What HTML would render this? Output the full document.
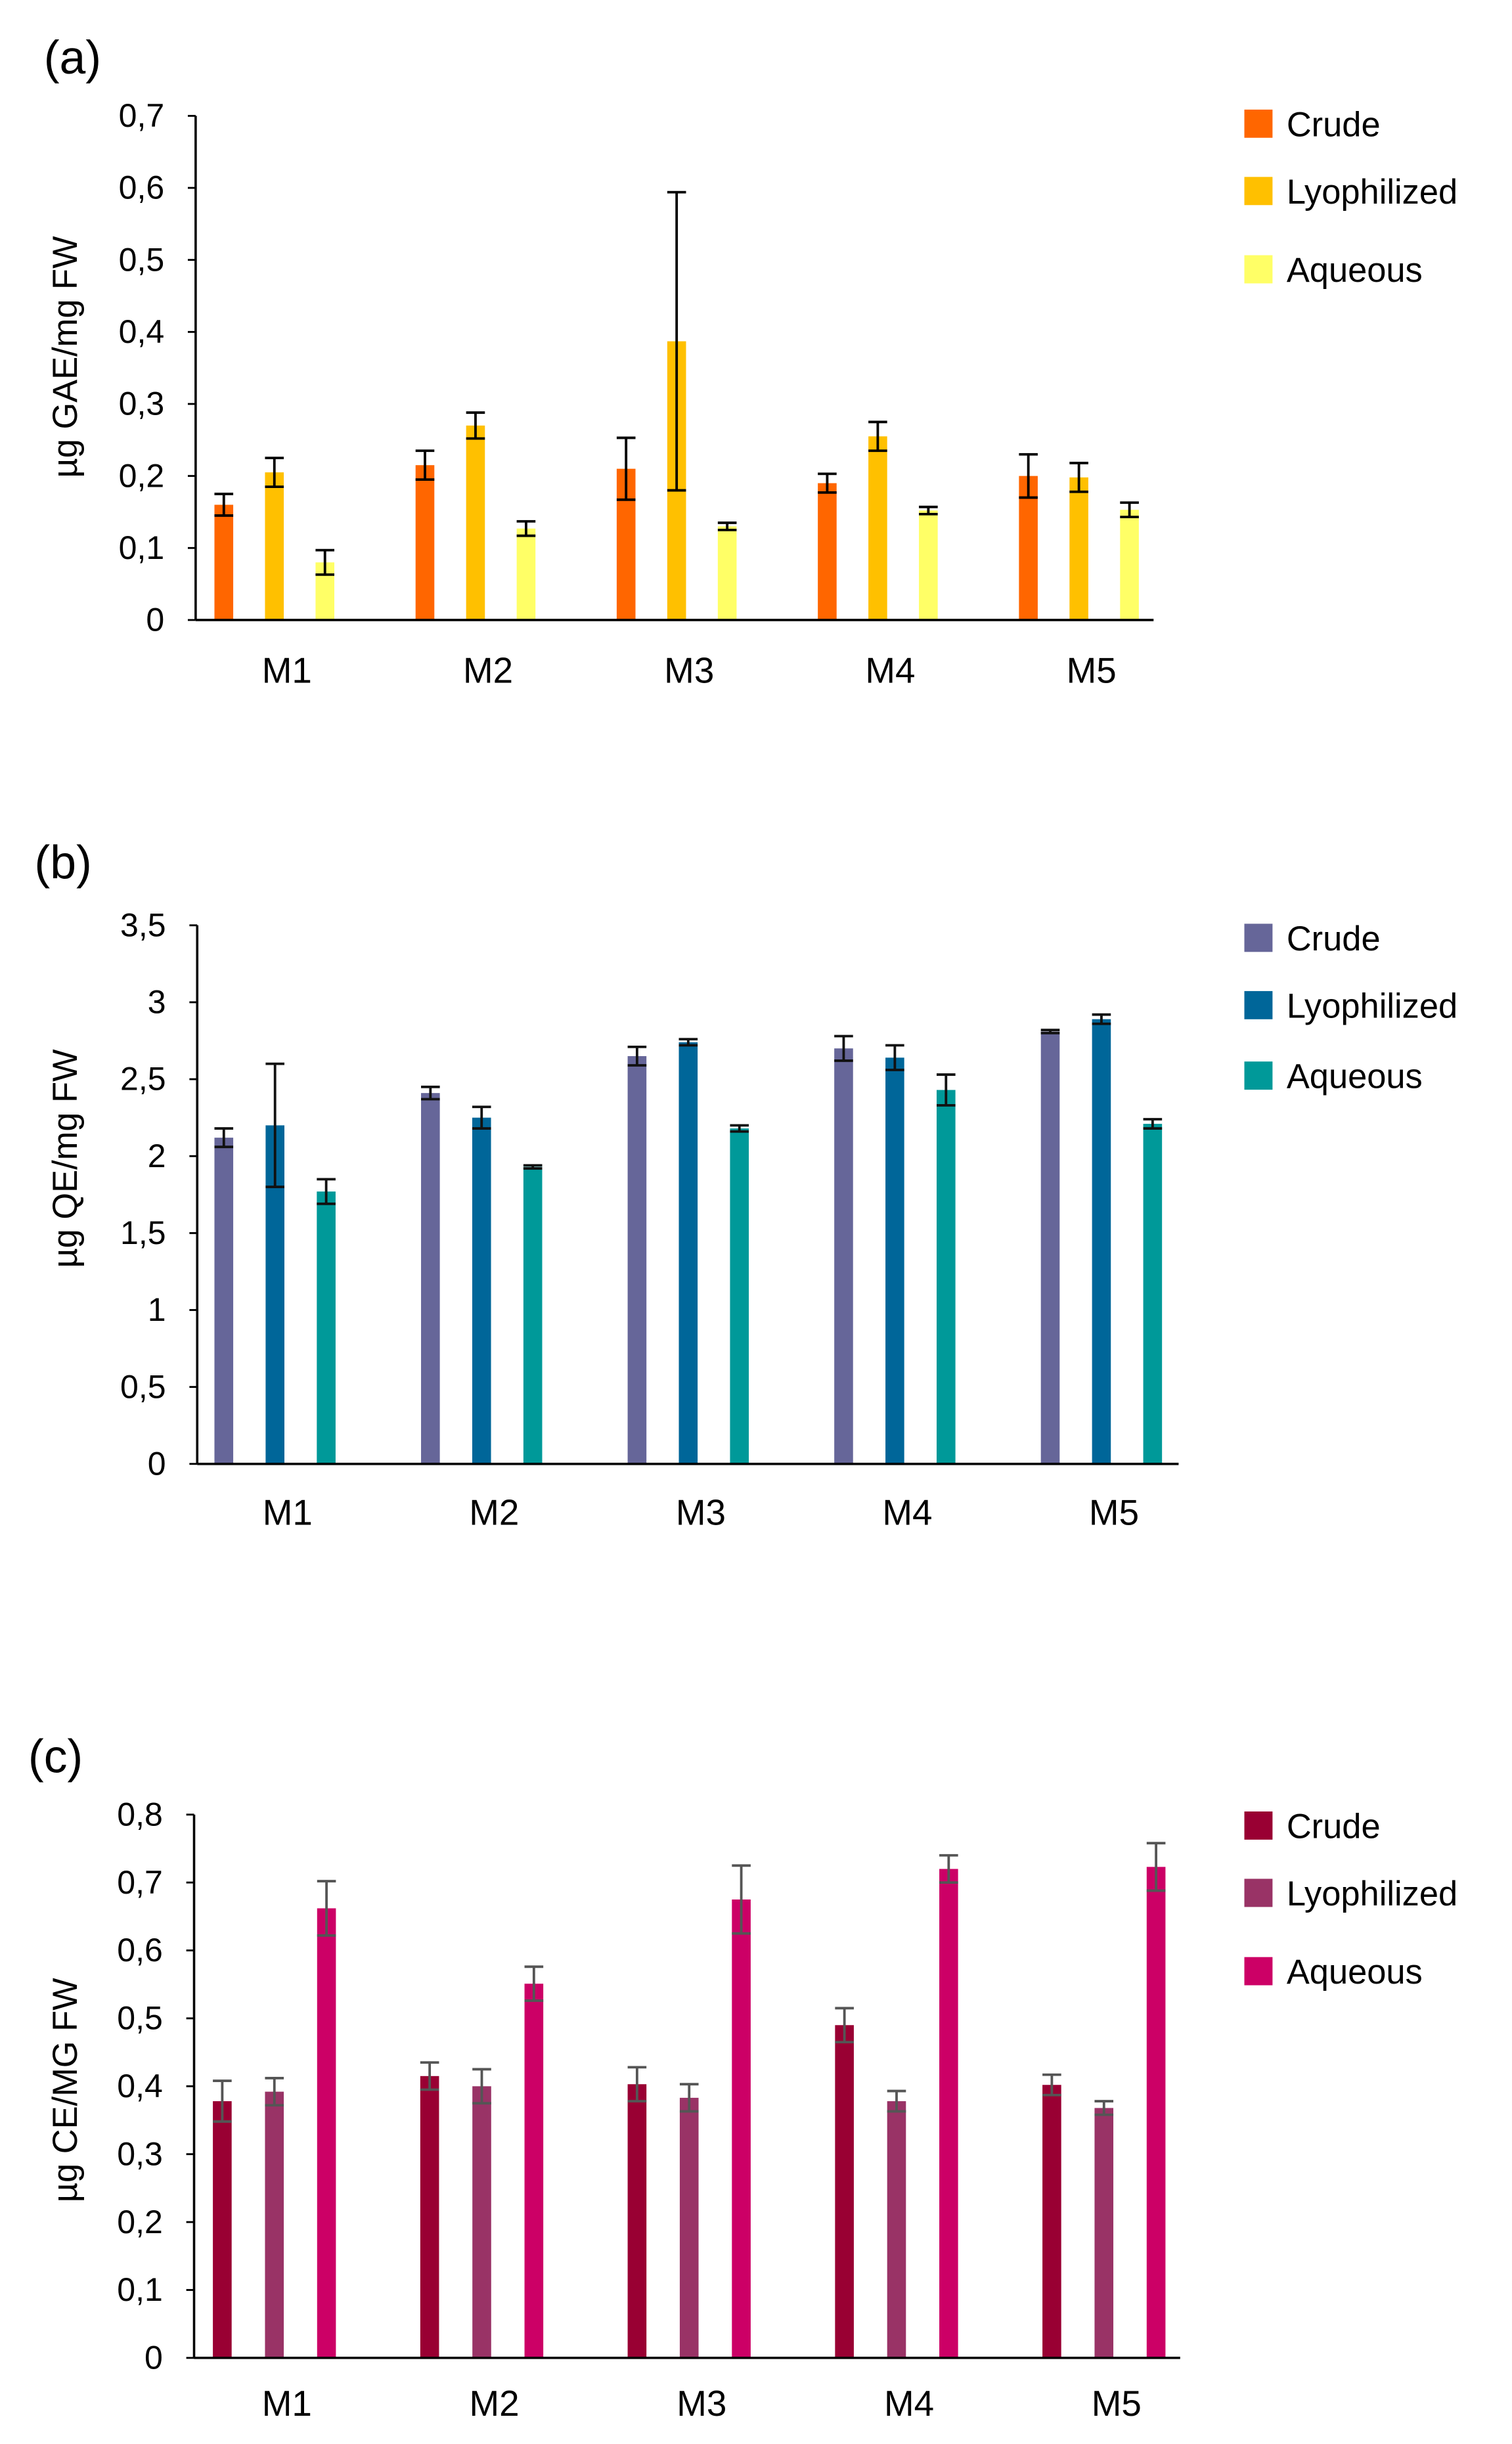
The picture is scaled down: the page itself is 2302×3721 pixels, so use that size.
<!DOCTYPE html>
<html><head><meta charset="utf-8"><style>
html,body{margin:0;padding:0;background:#fff}
svg{display:block}
text{font-family:"Liberation Sans",Arial,sans-serif;fill:#000}
</style></head><body>
<svg id="chart" width="2302" height="3721" viewBox="0 0 966 1561" preserveAspectRatio="none" xmlns="http://www.w3.org/2000/svg"></svg>
<script>
const categories = ["M1","M2","M3","M4","M5"];
const seriesNames = ["Crude","Lyophilized","Aqueous"];
// Panel a
const aCrude = [0.16,0.215,0.21,0.19,0.2];
const aCrudeErr = [0.015,0.02,0.043,0.013,0.03];
const aLyo = [0.205,0.27,0.387,0.255,0.198];
const aLyoErr = [0.02,0.018,0.207,0.02,0.02];
const aAq = [0.08,0.127,0.13,0.152,0.153];
const aAqErr = [0.017,0.01,0.005,0.005,0.01];
const aTicks = ["0","0,1","0,2","0,3","0,4","0,5","0,6","0,7"];
// Panel b
const bCrude = [2.12,2.41,2.65,2.7,2.81];
const bCrudeErr = [0.06,0.04,0.06,0.08,0.01];
const bLyo = [2.2,2.25,2.74,2.64,2.89];
const bLyoErr = [0.4,0.07,0.02,0.08,0.03];
const bAq = [1.77,1.93,2.18,2.43,2.21];
const bAqErr = [0.08,0.01,0.02,0.1,0.03];
const bTicks = ["0","0,5","1","1,5","2","2,5","3","3,5"];
// Panel c
const cCrude = [0.378,0.415,0.403,0.49,0.402];
const cCrudeErr = [0.03,0.02,0.025,0.025,0.015];
const cLyo = [0.392,0.4,0.383,0.378,0.368];
const cLyoErr = [0.02,0.025,0.02,0.015,0.01];
const cAq = [0.662,0.551,0.675,0.72,0.723];
const cAqErr = [0.04,0.025,0.05,0.02,0.035];
const cTicks = ["0","0,1","0,2","0,3","0,4","0,5","0,6","0,7","0,8"];

const svg = document.getElementById('chart');
const NS = "http://www.w3.org/2000/svg";
function mk(tag, attrs, parent){const e=document.createElementNS(NS,tag);for(const k in attrs)e.setAttribute(k,attrs[k]);(parent||svg).appendChild(e);return e;}

const panels = [
 {id:'a',label:'(a)',lx:28,ly:47,ax:125,y0:396,ytop:74,xend:737,max:0.7,step:0.1,ticks:aTicks,
  first:143,gap:128.5,off:32.3,series:[aCrude,aLyo,aAq],errs:[aCrudeErr,aLyoErr,aAqErr],
  colors:['#FF6600','#FFC000','#FFFF66'],errColor:'#000',title:'µg GAE/mg FW',titleY:228,
  labY:436,legY:[79,122,172],legX:795},
 {id:'b',label:'(b)',lx:22,ly:561,ax:126,y0:935,ytop:591,xend:753,max:3.5,step:0.5,ticks:bTicks,
  first:143,gap:132,off:32.7,series:[bCrude,bLyo,bAq],errs:[bCrudeErr,bLyoErr,bAqErr],
  colors:['#666699','#006699','#009999'],errColor:'#111',title:'µg QE/mg FW',titleY:740,
  labY:974,legY:[599,642,687],legX:795},
 {id:'c',label:'(c)',lx:18,ly:1132,ax:124,y0:1506,ytop:1159,xend:754,max:0.8,step:0.1,ticks:cTicks,
  first:142,gap:132.5,off:33.3,series:[cCrude,cLyo,cAq],errs:[cCrudeErr,cLyoErr,cAqErr],
  colors:['#990033','#993366','#CC0066'],errColor:'#555',title:'µg CE/MG FW',titleY:1335,
  labY:1543,legY:[1166,1209,1259],legX:795}
];

panels.forEach(p=>{
  const g = mk('g',{});
  
  
  const yScale = v => p.y0 - (v/p.max)*(p.y0-p.ytop);
  const xBar = (i,s) => p.first + i*p.gap + s*p.off;
  const pl = mk('text',{x:p.lx,y:p.ly,'font-size':30},g); pl.textContent=p.label;
  
  
  const yt = mk('text',{x:0,y:0,'font-size':22,'text-anchor':'middle',transform:`translate(49,${p.titleY}) rotate(-90)`},g);
  yt.textContent=p.title;
  
  
  p.ticks.forEach((t,k)=>{
    const y = yScale(k*p.step);
    mk('line',{x1:p.ax-5,x2:p.ax,y1:y,y2:y,stroke:'#000','stroke-width':1.2},g);
    const tt = mk('text',{x:p.ax-20,y:y+7,'font-size':21,'text-anchor':'end'},g);
    tt.textContent=t;
    
    
  });
  p.series.forEach((vals,s)=>{
    vals.forEach((v,i)=>{
      const x = xBar(i,s), y = yScale(v);
      const r = mk('rect',{x:x-6,y:y,width:12,height:p.y0-y,fill:p.colors[s]},g);
      
      
      const e = p.errs[s][i];
      const yh = yScale(v+e), yl = yScale(v-e);
      const eg = mk('g',{stroke:p.errColor,'stroke-width':1.6},g);
      
      
      mk('line',{x1:x,x2:x,y1:yh,y2:yl},eg);
      mk('line',{x1:x-6,x2:x+6,y1:yh,y2:yh},eg);
      mk('line',{x1:x-6,x2:x+6,y1:yl,y2:yl},eg);
    });
  });
  const ya = mk('line',{x1:p.ax,x2:p.ax,y1:p.ytop,y2:p.y0,stroke:'#000','stroke-width':1.5},g);
  
  
  const xa = mk('line',{x1:p.ax,x2:p.xend,y1:p.y0,y2:p.y0,stroke:'#000','stroke-width':1.5},g);
  
  
  categories.forEach((c,i)=>{
    const t = mk('text',{x:xBar(i,1)+8,y:p.labY,'font-size':23,'text-anchor':'middle'},g);
    t.textContent=c;
    
    
  });
  seriesNames.forEach((n,s)=>{
    const lg = mk('g',{},g);
    
    
    mk('rect',{x:p.legX,y:p.legY[s]-9,width:18,height:18,fill:p.colors[s]},lg);
    const t = mk('text',{x:p.legX+27,y:p.legY[s]+8,'font-size':22},lg);
    t.textContent=n;
  });
});
</script>
</body></html>
